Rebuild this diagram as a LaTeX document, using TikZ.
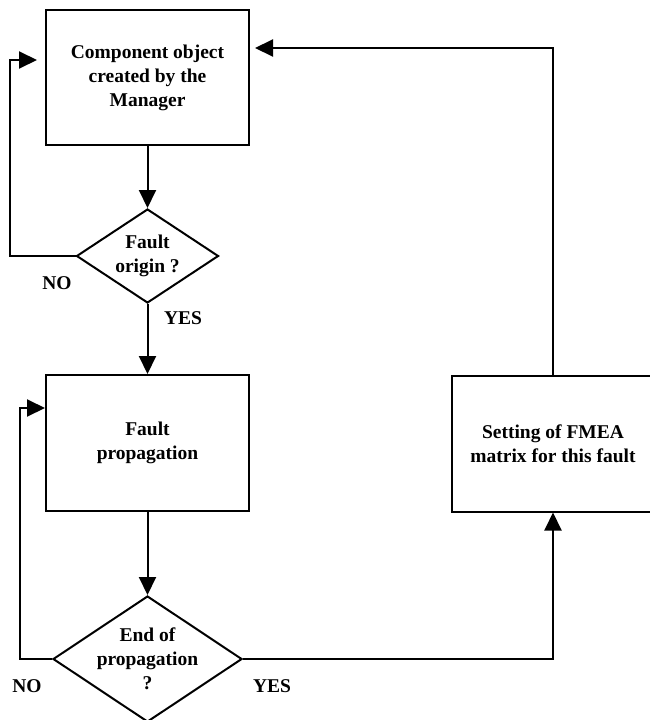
\documentclass[tikz,border=0pt]{standalone}
\usepackage{fontspec}
\setmainfont{Liberation Serif}
\usetikzlibrary{shapes.geometric, arrows.meta}
\tikzstyle{block} = [rectangle, draw, line width=2pt, align=center, inner sep=0pt]
\tikzstyle{decision} = [diamond, draw, line width=2pt, align=center, inner sep=-8pt, aspect=1.5]
\tikzstyle{arrow} = [line width=2pt, -{Triangle[length=18pt,width=17pt]}]
\tikzstyle{lbl} = [inner sep=0pt]

\begin{document}
\begin{tikzpicture}[x=1pt,y=-1pt,font=\bfseries\fontsize{19.5}{24}\selectfont]
        \useasboundingbox (0,0) rectangle (650,720);
        % boxes and decisions
        \node[block, minimum width=203pt, minimum height=135pt] (comp) at (147.5,77.5) {Component object\\created by the\\Manager};
        \node[decision, minimum width=142pt, minimum height=94pt] (origin) at (147.5,256) {Fault\\origin ?};
        \node[block, minimum width=203pt, minimum height=136pt] (prop) at (147.5,443) {Fault\\propagation};
        \node[decision, minimum width=189pt, minimum height=126pt] (endp) at (147.5,659) {End of\\propagation\\?};
        \node[block, minimum width=202pt, minimum height=136pt] (setf) at (553,443.5) {Setting of FMEA\\matrix for this fault};
        % corners of the return lines
        \coordinate (loop1) at (10,60);
        \coordinate (loop2) at (20,408);
        \coordinate (ret) at (553,48);
        % connectors
        \draw[arrow] (comp.south) -- (origin.north);
        \draw[arrow] (origin.south) -- (prop.north);
        \draw[arrow] (prop.south) -- (endp.north);
        \draw[arrow, shorten >=8pt] (origin.west) -| (loop1) -- (loop1 -| comp.west);
        \draw[arrow] (endp.west) -| (loop2) -- (loop2 -| prop.west);
        \draw[arrow] (endp.east) -| (setf.south);
        \draw[arrow, shorten >=5pt] (setf.north) -- (ret) -- (ret -| comp.east);
        % answers
        \node[lbl] (no1) at (57,283) {NO};
        \node[lbl] (yes1) at (183,318) {YES};
        \node[lbl] (no2) at (27,686) {NO};
        \node[lbl] (yes2) at (272,686) {YES};
    \end{tikzpicture}
\end{document}
